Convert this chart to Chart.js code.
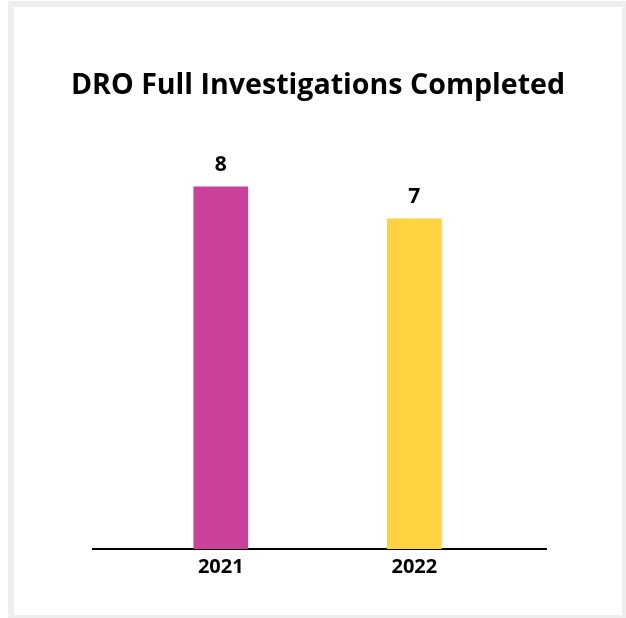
<!DOCTYPE html>
<html lang="en">
<head>
<meta charset="UTF-8">
<title>DRO Full Investigations Completed</title>
<style>
  html, body { margin: 0; padding: 0; overflow: hidden; background: #fff; }
  #frame {
    position: absolute; left: 8px; top: 1px;
    width: 608px; height: 608px;
    border: 6px solid #eeeeee;
    background: #fff;
  }
  #wrap { position: relative; width: 608px; height: 608px; }
</style>
</head>
<body>
<script src="https://cdn.jsdelivr.net/npm/chart.js"></script>
<div id="frame"><div id="wrap"><canvas id="myChart"></canvas></div></div>
<script>
  // data
  const years = ['2021', '2022'];
  const investigations = [8, 7];
  const barColors = ['#C9419B', '#FFD23F'];

  // the picture's value axis does not start at zero
  const yMin = -3.31;
  const yMax = 9.55;

  const valueLabels = {
    id: 'valueLabels',
    afterDatasetsDraw(chart) {
      const c = chart.ctx;
      const meta = chart.getDatasetMeta(0);
      c.save();
      c.font = 'bold 21px "Open Sans"';
      c.fillStyle = '#000';
      c.textAlign = 'center';
      c.textBaseline = 'middle';
      meta.data.forEach((bar, i) => {
        c.fillText(investigations[i], bar.x, bar.y - 22);
      });
      c.restore();
    }
  };

  // empty side axes just to reserve the white margins left/right of the plot
  const spacer = (pos, w) => ({
    position: pos,
    display: true,
    min: yMin,
    max: yMax,
    grid: { display: false },
    border: { display: false },
    ticks: { display: false },
    afterFit: s => { s.width = w; }
  });

  const ctx = document.getElementById('myChart').getContext('2d');
  new Chart(ctx, {
    type: 'bar',
    data: {
      datasets: [{
        data: years.map((y, i) => ({ x: i, y: investigations[i] })),
        backgroundColor: barColors,
        borderWidth: 0,
        barThickness: 54,
        base: yMin
      }]
    },
    options: {
      responsive: true,
      maintainAspectRatio: false,
      animation: false,
      layout: { padding: { left: 0, right: 0, top: 0, bottom: 30 } },
      plugins: {
        legend: { display: false },
        tooltip: { enabled: false },
        title: {
          display: true,
          text: 'DRO Full Investigations Completed',
          color: '#000',
          font: { family: '"Open Sans"', size: 28.6, weight: 'bold', lineHeight: 1.2 },
          padding: { top: 62, bottom: 34 }
        }
      },
      scales: {
        x: {
          type: 'linear',
          offset: false,
          min: -0.66,
          max: 1.68,
          afterBuildTicks: s => { s.ticks = s.ticks.filter(t => Number.isInteger(t.value)); },
          grid: { color: 'transparent', drawTicks: false, offset: false },
          border: { display: true, color: '#000', width: 2 },
          ticks: {
            stepSize: 1,
            padding: 6,
            color: '#000',
            font: { family: '"Open Sans"', size: 20, weight: 'bold' },
            callback: v => years[v]
          }
        },
        y: spacer('left', 79),
        yRight: spacer('right', 76)
      }
    },
    plugins: [valueLabels]
  });
</script>
</body>
</html>
